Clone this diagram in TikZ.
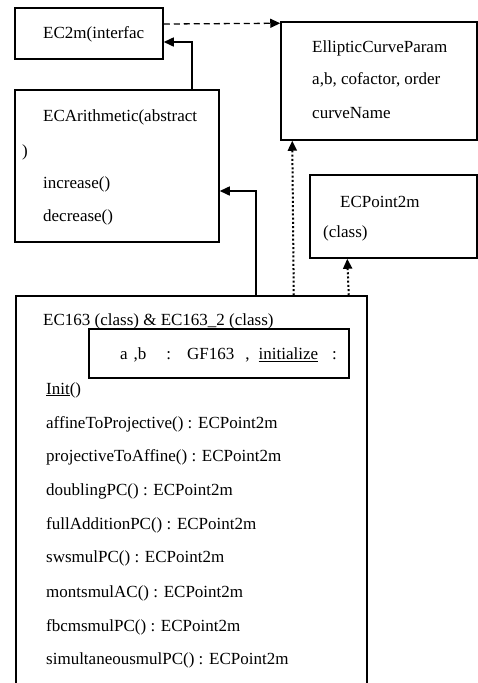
\documentclass[tikz,border=0pt]{standalone}
\usepackage{fontspec}
\setmainfont{Liberation Serif}
\usetikzlibrary{arrows.meta}

\begin{document}
\begin{tikzpicture}[x=1pt, y=-1pt,
  umlbox/.style={rectangle, draw=black, line width=1.5pt, inner sep=0pt},
  member/.style={anchor=west, inner sep=0pt, font=\fontsize{17}{20}\selectfont},
  arr/.style={-{Triangle[length=10pt,width=9pt]}, line width=1.5pt},
  darr/.style={-{Triangle[length=10pt,width=9pt]}, line width=1.3pt, dash pattern=on 6pt off 4pt},
  dotarr/.style={-{Triangle[length=10pt,width=9pt]}, line width=2pt, dash pattern=on 2pt off 2.2pt}
]
  \useasboundingbox (0,0) rectangle (478,683);
  \clip (0,0) rectangle (478,683);

  \node[umlbox, minimum width=148pt, minimum height=51pt] (ec2m) at (89,33.5) {};
  \node[member] (ec2mname) at (43,34) {EC2m(interfac};

  \node[umlbox, minimum width=204pt, minimum height=152pt] (arith) at (117,166) {};
  \node[member] (arithname) at (43,117) {ECArithmetic(abstract};
  \node[member] (arithclose) at (22,152) {)};
  \node[member] (inc) at (43,184) {increase()};
  \node[member] (dec) at (43,217) {decrease()};

  \node[umlbox, minimum width=196pt, minimum height=118pt] (param) at (379,81) {};
  \node[member] (paramname) at (312,48) {EllipticCurveParam};
  \node[member] (paramab) at (312,80) {a,b, cofactor, order};
  \node[member] (paramcurve) at (312,113) {curveName};

  \node[umlbox, minimum width=167pt, minimum height=83pt] (point2m) at (393.5,216.5) {};
  \node[member] (pointname) at (340,202) {ECPoint2m};
  \node[member] (pointclass) at (323,233) {(class)};

  \node[umlbox, minimum width=351pt, minimum height=440pt] (ec163) at (191.5,516) {};
  \node[member] (ec163name) at (43,321) {EC163 (class) \& EC163\_2 (class)};
  \node[umlbox, fill=white, minimum width=260pt, minimum height=49pt] (attrs) at (219,353.5) {};
  \node[member] (attrtext) at (120,355)
        {a\hspace{6pt},b\hspace{20pt}:\hspace{16pt}GF163\hspace{11pt},\hspace{9pt}\underline{initialize}\hspace{14pt}:};
  \node[member] (init) at (46,390) {\underline{Init}()};
  \node[member] (aff) at (46,424) {affineToProjective() : ECPoint2m};
  \node[member] (proj) at (46,457) {projectiveToAffine() : ECPoint2m};
  \node[member] (dbl) at (46,491) {doublingPC() : ECPoint2m};
  \node[member] (full) at (46,525) {fullAdditionPC() : ECPoint2m};
  \node[member] (sws) at (46,558) {swsmulPC() : ECPoint2m};
  \node[member] (mont) at (46,593) {montsmulAC() : ECPoint2m};
  \node[member] (fbc) at (46,627) {fbcmsmulPC() : ECPoint2m};
  \node[member] (simul) at (46,660) {simultaneousmulPC() : ECPoint2m};

  \draw[arr] ([xshift=-28pt]arith.north east) |- ([yshift=-8.5pt]ec2m.east);
  \draw[darr] ([yshift=9.5pt]ec2m.east) -- ([yshift=-2pt]param.north west);
  \draw[dotarr] ([xshift=-74pt]ec163.north east) -- ([xshift=12pt]param.south west);
  \draw[dotarr] ([xshift=-19pt]ec163.north east) -- ([xshift=38pt]point2m.south west);
  \draw[arr] ([xshift=-112pt]ec163.north east) |- ([yshift=-25pt]arith.east);
\end{tikzpicture}
\end{document}
